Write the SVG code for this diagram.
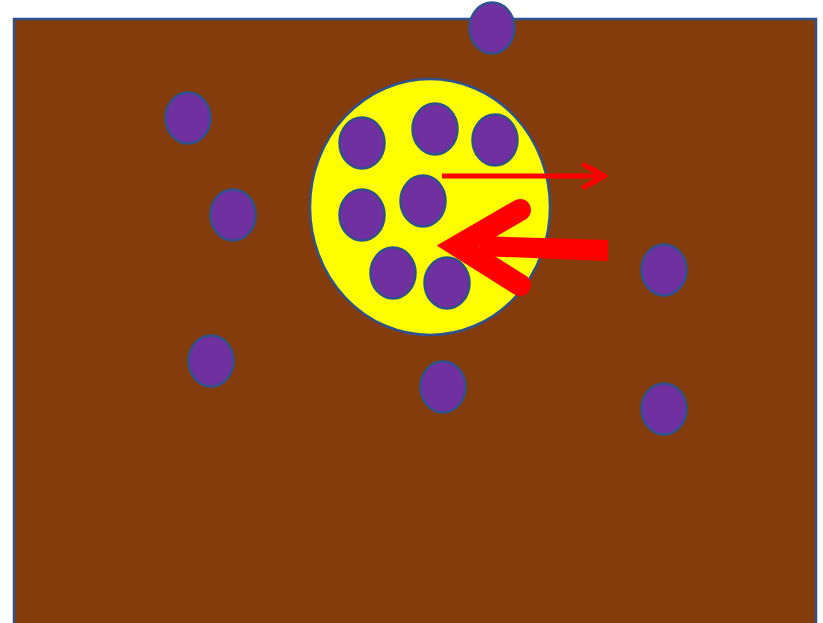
<svg xmlns="http://www.w3.org/2000/svg" width="823" height="623" viewBox="0 0 823 623">
<style>
.dot{fill:#7030A0;stroke:#2F528F;stroke-width:2.5}
.red{stroke:#FF0000;fill:none;stroke-linecap:round}
</style>
<rect width="823" height="623" fill="#FFFFFF"/>
<rect id="ground" x="14" y="19" width="802" height="620" fill="#843C0C" stroke="#2F528F" stroke-width="2.5"/>
<g id="cell">
<ellipse cx="430" cy="207" rx="120" ry="128" fill="#FFFF00" stroke="#2F528F" stroke-width="2.5"/>
</g>
<g id="particles">
<ellipse class="dot" cx="492" cy="28" rx="22.5" ry="25.5"/>
<ellipse class="dot" cx="188" cy="118" rx="22.5" ry="25.5"/>
<ellipse class="dot" cx="233" cy="215" rx="22.5" ry="25.5"/>
<ellipse class="dot" cx="211" cy="361" rx="22.5" ry="25.5"/>
<ellipse class="dot" cx="443" cy="387" rx="22.5" ry="25.5"/>
<ellipse class="dot" cx="664" cy="270" rx="22.5" ry="25.5"/>
<ellipse class="dot" cx="664" cy="409" rx="22.5" ry="25.5"/>
<ellipse class="dot" cx="362" cy="143" rx="22.5" ry="25.5"/>
<ellipse class="dot" cx="435" cy="129" rx="22.5" ry="25.5"/>
<ellipse class="dot" cx="495" cy="140" rx="22.5" ry="25.5"/>
<ellipse class="dot" cx="362" cy="215" rx="22.5" ry="25.5"/>
<ellipse class="dot" cx="423" cy="201" rx="22.5" ry="25.5"/>
<ellipse class="dot" cx="393" cy="273" rx="22.5" ry="25.5"/>
<ellipse class="dot" cx="447" cy="283" rx="22.5" ry="25.5"/>
</g>
<g id="connectors">
<line x1="442" y1="176" x2="603" y2="176" stroke="#FF0000" stroke-width="5"/>
<polyline class="red" points="584,165 605,176 584,187" stroke-width="5" style="stroke-linejoin:round"/>
<polygon points="608,240 608,261 480,256 480,236" fill="#FF0000"/>
<polyline class="red" points="520,210 458,246 520,285" stroke-width="22" style="stroke-linejoin:miter;stroke-miterlimit:10"/>
</g>
</svg>
